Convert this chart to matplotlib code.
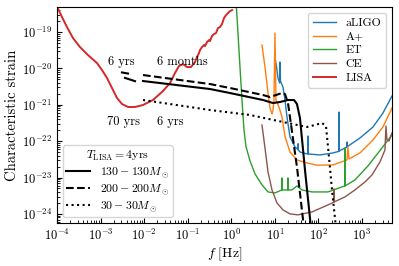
import numpy as np
import matplotlib

matplotlib.use("Agg")
import matplotlib.pyplot as plt
from matplotlib.lines import Line2D
from matplotlib.ticker import LogLocator, FixedLocator

# all curves stored as log10(f / Hz), log10(h_c)

ALIGO_LOGF = [1.003, 1.049, 1.072, 1.110, 1.118, 1.130, 1.187, 1.233, 1.279, 1.348, 1.462, 1.530, 1.534, 1.538,
              1.577, 1.700, 1.761, 1.765, 1.770, 2.036, 2.335, 2.468, 2.472, 2.476, 2.656, 2.660, 2.664,
              2.954, 3.253, 3.482, 3.689]
ALIGO_LOGH = [-19.687, -20.044, -20.264, -20.400, -19.824, -20.350, -20.511, -20.868, -21.335, -21.885, -22.159,
              -22.230, -22.070, -22.240, -22.297, -22.340, -22.352, -21.857, -22.352, -22.379, -22.324,
              -22.280, -21.198, -22.270, -22.159, -22.022, -22.150, -21.912, -21.610, -21.225, -20.758]

APLUS_LOGF = [0.705, 0.774, 0.843, 0.889, 0.935, 0.958, 0.980, 1.003, 1.026, 1.095, 1.164, 1.233, 1.348,
              1.508, 1.738, 1.967, 2.335, 2.656, 2.679, 2.702, 2.954, 3.253, 3.482, 3.689]
APLUS_LOGH = [-19.357, -19.962, -20.676, -21.088, -21.253, -21.143, -20.868, -19.027, -20.868, -21.060,
              -21.335, -21.870, -22.297, -22.516, -22.599, -22.660, -22.654, -22.516, -22.159, -22.489,
              -22.324, -21.967, -21.610, -21.088]

ET_LOGF = [0.108, 0.154, 0.200, 0.246, 0.292, 0.338, 0.430, 0.545, 0.705, 0.843, 1.003, 1.160, 1.164, 1.168,
           1.298, 1.302, 1.306, 1.394, 1.508, 1.623, 1.853, 2.220, 2.541, 2.606, 2.610, 2.614, 2.839,
           3.138, 3.459, 3.689]
ET_LOGH = [-18.120, -19.027, -19.962, -20.868, -21.692, -22.150, -22.540, -22.900, -23.200, -23.396, -23.423,
           -23.341, -23.011, -23.341, -23.341, -23.011, -23.341, -23.341, -23.231, -23.341, -23.396,
           -23.396, -23.258, -23.231, -22.187, -23.231, -23.066, -22.681, -22.187, -21.830]

CE_LOGF = [0.705, 0.774, 0.843, 0.935, 1.049, 1.187, 1.348, 1.531, 1.853, 2.220, 2.354, 2.358, 2.362, 2.610,
           2.839, 3.069, 3.230, 3.413, 3.528, 3.551, 3.574, 3.620, 3.689]
CE_LOGH = [-21.555, -22.187, -22.846, -23.341, -23.698, -23.890, -24.000, -24.027, -23.945, -23.753, -23.680,
           -23.313, -23.670, -23.533, -23.341, -23.121, -22.929, -22.571, -22.242, -21.582, -21.967,
           -21.995, -21.775]

LISA_LOGF = [-4.000, -3.885, -3.771, -3.633, -3.472, -3.289, -3.082, -2.967, -2.852, -2.738, -2.623, -2.508,
             -2.370, -2.210, -2.026, -1.797, -1.567, -1.406, -1.292, -1.200, -1.108, -1.016, -0.925,
             -0.833, -0.787, -0.741, -0.718, -0.672, -0.626, -0.603, -0.557, -0.511, -0.488, -0.443,
             -0.397, -0.351, -0.305, -0.259, -0.213, -0.167, -0.121, -0.075, -0.029, 0.017]
LISA_LOGH = [-18.300, -18.588, -18.863, -19.165, -19.412, -19.632, -19.852, -20.044, -20.264, -20.538,
             -20.813, -20.978, -21.060, -21.060, -21.005, -20.868, -20.621, -20.401, -20.126, -19.934,
             -19.879, -19.962, -19.962, -19.824, -19.687, -19.577, -19.495, -19.412, -19.357, -19.385,
             -19.275, -19.220, -19.247, -19.110, -19.055, -19.027, -18.890, -18.863, -18.780, -18.615,
             -18.533, -18.478, -18.423, -18.396]

# binary tracks, 130-130, 200-200 and 30-30 solar masses
SOLID_LOGF = [-2.026, -0.488, -0.029, 0.728, 0.958, 1.118, 1.302, 1.440, 1.508, 1.577, 1.692, 1.830]
SOLID_LOGH = [-20.346, -20.566, -20.676, -20.868, -20.951, -20.923, -20.868, -20.868, -20.978, -21.363,
              -22.791, -24.385]
DASHED_LOGF = [-2.026, -0.488, -0.029, 0.728, 0.889, 1.164, 1.233, 1.302, 1.508, 1.669]
DASHED_LOGH = [-20.181, -20.429, -20.538, -20.731, -20.786, -20.676, -20.703, -20.951, -22.709, -24.385]
DOTTED_LOGF = [-2.026, -0.488, 0.430, 1.187, 1.738, 1.922, 2.082, 2.174, 2.243, 2.312, 2.404]
DOTTED_LOGH = [-20.868, -21.143, -21.280, -21.473, -21.610, -21.555, -21.500, -21.582, -22.434, -23.341,
               -24.385]

# short pieces seen for the earlier start times
SOLID_EARLY_LOGF = [-2.44, -2.21]
SOLID_EARLY_LOGH = [-20.26, -20.35]
DASHED_EARLY_LOGF = [-2.51, -2.37]
DASHED_EARLY_LOGH = [-20.11, -20.14]
DOTTED_EARLY_LOGF = [-2.400, -2.385]
DOTTED_EARLY_LOGH = [-20.81, -20.81]

TIME_LABELS = ["6 yrs", "6 months", "70 yrs", "6 yrs"]
TIME_LABEL_LOGF = [-2.53, -1.13, -2.48, -1.41]
TIME_LABEL_LOGH = [-19.82, -19.82, -21.47, -21.47]

X_DECADES = [-4, -3, -2, -1, 0, 1, 2, 3]
Y_DECADES = [-24, -23, -22, -21, -20, -19]

DETECTORS = [
    ("aLIGO", ALIGO_LOGF, ALIGO_LOGH, "tab:blue"),
    ("A+", APLUS_LOGF, APLUS_LOGH, "tab:orange"),
    ("ET", ET_LOGF, ET_LOGH, "tab:green"),
    ("CE", CE_LOGF, CE_LOGH, "tab:brown"),
]
TRACK_LABELS = [r"$130-130M_\odot$", r"$200-200M_\odot$", r"$30-30M_\odot$"]


def _pw(values):
    return 10.0 ** np.asarray(values, dtype=float)


def main() -> None:
    plt.rcParams.update({
        "font.family": "serif",
        "font.serif": ["cmr10"],
        "mathtext.fontset": "cm",
        "axes.formatter.use_mathtext": True,
        "axes.unicode_minus": False,
        "font.size": 9,
    })

    fig = plt.figure(figsize=(3.99, 2.66), dpi=100, facecolor="white")
    ax = fig.add_axes([0.1429, 0.1617, 0.8396, 0.812])

    det_handles = []
    for name, lf, lh, color in DETECTORS:
        (ln,) = ax.plot(_pw(lf), _pw(lh), color=color, lw=1.0, label=name)
        det_handles.append(ln)
    (lisa,) = ax.plot(_pw(LISA_LOGF), _pw(LISA_LOGH), color="tab:red", lw=1.4, label="LISA")
    det_handles.append(lisa)

    ax.plot(_pw(SOLID_LOGF), _pw(SOLID_LOGH), color="black", lw=1.5, ls="-")
    ax.plot(_pw(DASHED_LOGF), _pw(DASHED_LOGH), color="black", lw=1.5, ls="--")
    ax.plot(_pw(DOTTED_LOGF), _pw(DOTTED_LOGH), color="black", lw=1.5, ls=":")
    ax.plot(_pw(SOLID_EARLY_LOGF), _pw(SOLID_EARLY_LOGH), color="black", lw=1.5, ls="-")
    ax.plot(_pw(DASHED_EARLY_LOGF), _pw(DASHED_EARLY_LOGH), color="black", lw=1.5, ls="-")
    ax.plot(_pw(DOTTED_EARLY_LOGF), _pw(DOTTED_EARLY_LOGH), color="black", lw=1.5, ls="-")

    for txt, lf, lh in zip(TIME_LABELS, TIME_LABEL_LOGF, TIME_LABEL_LOGH):
        ax.text(10 ** lf, 10 ** lh, txt, ha="center", va="center", fontsize=9)

    ax.set_xscale("log")
    ax.set_yscale("log")
    ax.set_xlim(1e-4, 10 ** 3.69)
    ax.set_ylim(10 ** -24.25, 10 ** -18.31)
    ax.set_xlabel(r"$f\ [\mathrm{Hz}]$", fontsize=10, labelpad=2)
    ax.set_ylabel("Characteristic strain", fontsize=10.5, labelpad=2)
    ax.tick_params(which="both", direction="in", labelsize=9)
    # fixed majors inside the view so no label sits off the canvas
    ax.xaxis.set_major_locator(FixedLocator(_pw(X_DECADES)))
    ax.yaxis.set_major_locator(FixedLocator(_pw(Y_DECADES)))
    ax.xaxis.set_minor_locator(LogLocator(base=10, subs=np.arange(2, 10), numticks=20))
    ax.yaxis.set_minor_locator(LogLocator(base=10, subs=np.arange(2, 10), numticks=20))
    ax.xaxis.set_minor_formatter(matplotlib.ticker.NullFormatter())
    ax.yaxis.set_minor_formatter(matplotlib.ticker.NullFormatter())

    leg1 = ax.legend(handles=det_handles, loc="upper right", fontsize=8.5, labelspacing=0.3,
                     handlelength=2.0, borderpad=0.4)
    ax.add_artist(leg1)

    track_handles = [Line2D([], [], color="black", lw=1.5, ls=s) for s in ("-", "--", ":")]
    ax.legend(handles=track_handles, labels=TRACK_LABELS, loc="lower left", fontsize=8.5,
              title=r"$T_\mathrm{LISA} = 4$yrs", title_fontsize=8.5, labelspacing=0.2,
              handlelength=2.0, borderpad=0.3)

    fig.savefig("out.png", dpi=100)
    plt.close(fig)


if __name__ == "__main__":
    main()
